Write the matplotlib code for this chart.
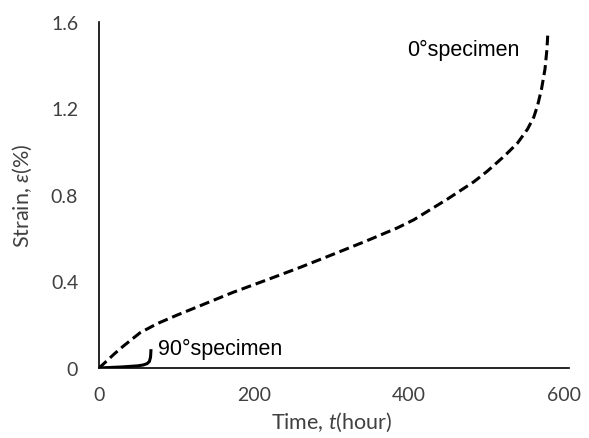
import matplotlib
matplotlib.use("Agg")
import matplotlib.pyplot as plt

# 0° specimen (dashed)
t0 = [0, 8, 20, 31, 53, 75, 101, 134, 173, 217, 260, 303, 346, 385, 406,
      450, 484, 501, 523, 540, 553, 561, 566, 571, 575.5, 578, 579]
s0 = [0, 0.026, 0.066, 0.10, 0.163, 0.205, 0.245, 0.293, 0.35, 0.408, 0.466, 0.527,
      0.589, 0.648, 0.685, 0.782, 0.862, 0.91, 0.98, 1.04, 1.105, 1.16, 1.215, 1.29,
      1.383, 1.475, 1.537]

# 90° specimen (solid)
t90 = [0, 30, 50, 57, 62, 65, 66.5, 67]
s90 = [0, 0.005, 0.01, 0.014, 0.02, 0.03, 0.05, 0.08]

xticks = [0, 200, 400, 600]
yticks = [0, 0.4, 0.8, 1.2, 1.6]
ytick_labels = ["0", "0.4", "0.8", "1.2", "1.6"]

plt.rcParams['mathtext.fontset'] = 'custom'
plt.rcParams['mathtext.rm'] = 'Lato'
plt.rcParams['mathtext.it'] = 'Lato:italic'

fig = plt.figure(figsize=(5.89, 4.39), dpi=100)
ax = fig.add_axes([99/589, 70/439, 465/589, 346/439])

ax.plot(t0, s0, color='black', lw=2.2, dashes=(3.3, 1.6), solid_capstyle='butt')
ax.plot(t90, s90, color='black', lw=2.2)

ax.set_xlim(0, 600)
ax.set_ylim(0, 1.6)
ax.set_xticks(xticks)
ax.set_yticks(yticks)
ax.set_yticklabels(ytick_labels)
ax.tick_params(length=0, labelsize=14, colors='#404040')
ax.tick_params(axis='x', pad=13)
ax.tick_params(axis='y', pad=15)
for lab in ax.get_xticklabels() + ax.get_yticklabels():
    lab.set_family('Lato')
for sp in ['top', 'right']:
    ax.spines[sp].set_visible(False)
for sp in ['left', 'bottom']:
    ax.spines[sp].set_linewidth(1.2)
    ax.spines[sp].set_color('black')
ax.spines['bottom'].set_bounds(0, 606)
ax.spines['bottom'].set_clip_on(False)

ax.set_xlabel(r'Time, $t$(hour)', family='Lato', fontsize=15.5, color='#404040', labelpad=5)
ax.set_ylabel(r'Strain, $\varepsilon$(%)', family='Lato', fontsize=15.5, color='#404040', labelpad=12)

ax.text(398, 1.473, '0°specimen', family='Liberation Sans', fontsize=15.5, ha='left', va='center')
ax.text(76, 0.092, '90°specimen', family='Liberation Sans', fontsize=15.5, ha='left', va='center')

fig.savefig('out.png', dpi=100)
